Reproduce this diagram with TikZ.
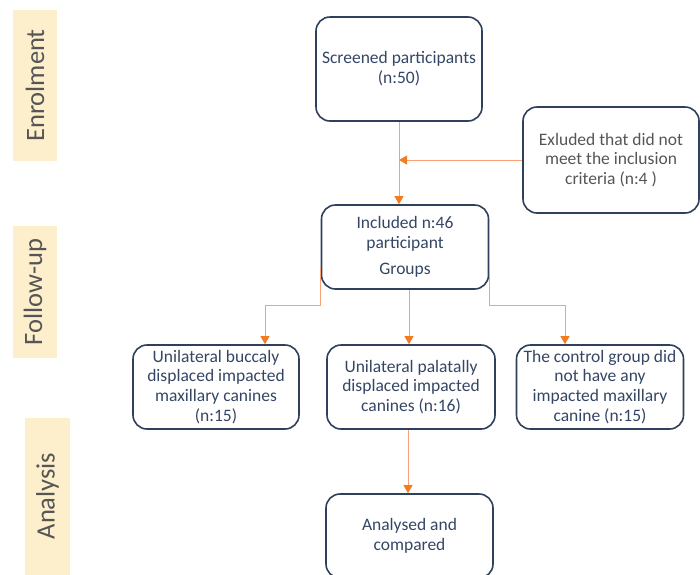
\documentclass[tikz,border=0pt]{standalone}
\usepackage{fontspec}
\setmainfont{Carlito}
\usetikzlibrary{arrows.meta}
\definecolor{navy}{RGB}{46, 64, 92}
\definecolor{boxtext}{RGB}{52, 70, 100}
\definecolor{lineorange}{RGB}{248, 160, 120}
\definecolor{tiporange}{RGB}{244, 124, 32}
\definecolor{stagebg}{RGB}{253, 239, 204}
\definecolor{stagetext}{RGB}{85, 85, 85}

\tikzset{
  flowbox/.style={draw=navy, line width=1.6pt, rounded corners=14pt, align=center,
    text=boxtext, font=\fontsize{17.5}{19.8}\selectfont, inner sep=2pt},
  stagelabel/.style={fill=stagebg, text=stagetext, rotate=90,
    font=\fontsize{26.5}{30}\selectfont, inner sep=0pt},
  flow/.style={draw=lineorange, line width=1pt,
    -{Triangle[width=9pt,length=8pt,color=tiporange]}},
  plainflow/.style={draw=lineorange, line width=1pt}
}

\begin{document}
\begin{tikzpicture}[x=1pt,y=-1pt]
  \useasboundingbox (0,0) rectangle (700,574);

  % stage labels
  \node[stagelabel, minimum width=151pt, minimum height=44pt] (enrol) at (35,85.5) {Enrolment};
  \node[stagelabel, minimum width=132pt, minimum height=44pt] (follow) at (35,292) {Follow-up};
  \node[stagelabel, minimum width=157pt, minimum height=45pt] (anal) at (47.5,496) {Analysis};

  % boxes
  \node[flowbox, minimum width=166pt, minimum height=104pt] (screen) at (399,69)
    {Screened participants\\(n:50)};
  \node[flowbox, minimum width=176pt, minimum height=106pt, text=stagetext] (excl) at (611,160)
    {Exluded that did not\\meet the inclusion\\criteria (n:4 )};
  \node[flowbox, minimum width=167pt, minimum height=84pt] (incl) at (405,247)
    {Included n:46\\participant\\[6pt]Groups};
  \node[flowbox, minimum width=166pt, minimum height=84pt] (bucc) at (216,387)
    {Unilateral buccaly\\displaced impacted\\maxillary canines\\(n:15)};
  \node[flowbox, minimum width=168pt, minimum height=84pt] (pala) at (411,387)
    {Unilateral palatally\\displaced impacted\\canines (n:16)};
  \node[flowbox, minimum width=167pt, minimum height=84pt] (ctrl) at (600,387)
    {The control group did\\not have any\\impacted maxillary\\canine (n:15)};
  \node[flowbox, minimum width=167pt, minimum height=84pt] (result) at (409.5,536)
    {Analysed and\\compared};

  % connectors
  \draw[flow] (screen.south) -- (screen.south |- incl.north);
  \draw[flow] (excl.west) -- (screen.south |- excl.west);
  \draw[flow] ([yshift=-21pt]incl.west) -- ++(0,37) -| ([xshift=49pt]bucc.north);
  \draw[flow] ([xshift=4pt]incl.south) -- ([xshift=-2pt]pala.north);
  \draw[flow] ([yshift=-21pt]incl.east) -- ++(0,37) -| ([xshift=-35pt]ctrl.north);
  \draw[flow] ([xshift=-3pt]pala.south) -- ([xshift=-1.5pt]result.north);
\end{tikzpicture}
\end{document}
